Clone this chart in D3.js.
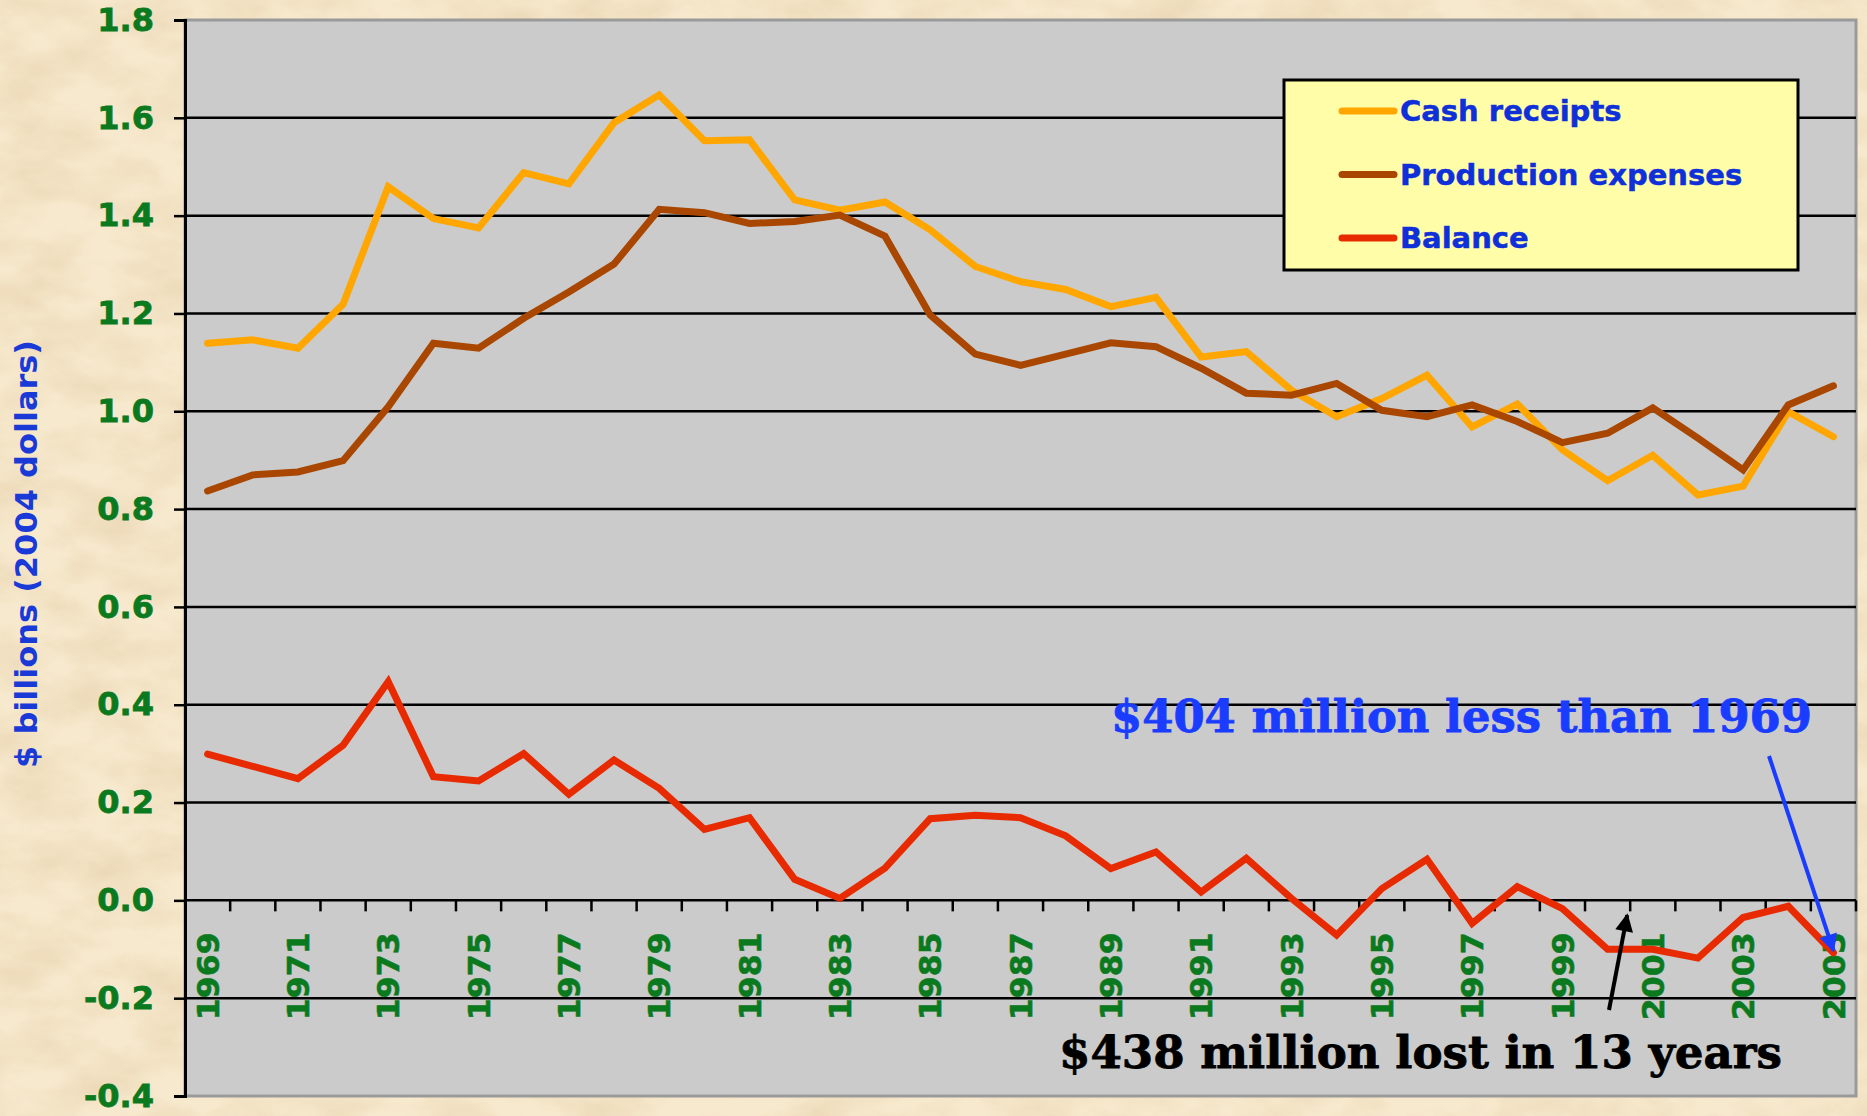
<!DOCTYPE html>
<html>
<head>
<meta charset="utf-8">
<script src="https://cdn.jsdelivr.net/npm/d3@7"></script>
<style>
  body { margin: 0; overflow: hidden; background: #f3e3c4; }
  svg { display: block; }
</style>
</head>
<body>
<div id="chart"></div>
<script>
// data, $ billions (2004 dollars)
const years = d3.range(1969, 2006);
const cashReceipts = [1.139, 1.146, 1.129, 1.219, 1.459, 1.394, 1.375, 1.488, 1.465, 1.590,
  1.647, 1.553, 1.555, 1.432, 1.411, 1.428, 1.371, 1.296, 1.265, 1.249,
  1.214, 1.233, 1.111, 1.122, 1.043, 0.989, 1.026, 1.074, 0.968, 1.015,
  0.921, 0.858, 0.910, 0.829, 0.847, 0.999, 0.948];
const productionExpenses = [0.837, 0.870, 0.876, 0.899, 1.009, 1.139, 1.129, 1.190, 1.244, 1.301,
  1.413, 1.406, 1.384, 1.388, 1.401, 1.358, 1.197, 1.117, 1.094, 1.117,
  1.140, 1.132, 1.088, 1.037, 1.033, 1.057, 1.002, 0.989, 1.013, 0.979,
  0.936, 0.955, 1.007, 0.945, 0.880, 1.013, 1.052];
const balance = [0.299, 0.274, 0.249, 0.317, 0.447, 0.253, 0.244, 0.300, 0.217, 0.287,
  0.229, 0.145, 0.169, 0.043, 0.004, 0.066, 0.167, 0.174, 0.169, 0.132,
  0.065, 0.099, 0.017, 0.086, 0.004, -0.071, 0.024, 0.084, -0.047, 0.028,
  -0.017, -0.100, -0.100, -0.118, -0.035, -0.012, -0.107];
const yTicks = [-0.4, -0.2, 0, 0.2, 0.4, 0.6, 0.8, 1.0, 1.2, 1.4, 1.6, 1.8];
const seriesNames = ["Cash receipts", "Production expenses", "Balance"];
const seriesColors = ["#ffa600", "#a94600", "#e82a00"];

const W = 1867, H = 1116;
const margin = { top: 20, right: 11, bottom: 20, left: 185 },
      width = W - margin.left - margin.right,
      height = H - margin.top - margin.bottom;

const svg = d3.select("#chart").append("svg")
    .attr("width", W)
    .attr("height", H);

// parchment background
const defs = svg.append("defs");
const f = defs.append("filter").attr("id", "paper")
    .attr("x", 0).attr("y", 0).attr("width", "100%").attr("height", "100%");
f.append("feTurbulence").attr("type", "fractalNoise")
    .attr("baseFrequency", "0.014 0.025").attr("numOctaves", 5).attr("seed", 7);
f.append("feColorMatrix").attr("type", "matrix")
    .attr("values", "0 0 0 0 0.78  0 0 0 0 0.62  0 0 0 0 0.40  1.6 0 0 0 -0.55");

svg.append("rect").attr("width", W).attr("height", H).attr("fill", "#f7e9cd");
svg.append("rect").attr("width", W).attr("height", H)
    .attr("filter", "url(#paper)").attr("opacity", 0.7);

// arrow markers
function marker(id, color) {
  defs.append("marker").attr("id", id)
      .attr("viewBox", "0 0 10 10").attr("refX", 9).attr("refY", 5)
      .attr("markerWidth", 5).attr("markerHeight", 4.5)
      .attr("markerUnits", "strokeWidth")
      .attr("orient", "auto")
    .append("path").attr("d", "M0,0 L10,5 L0,10 z").attr("fill", color);
}
marker("headBlue", "#1a3cff");
marker("headBlack", "#000");

const g = svg.append("g")
    .attr("transform", `translate(${margin.left},${margin.top})`);

const x = d3.scaleBand().domain(years).range([0, width]).padding(0);
const y = d3.scaleLinear().domain([-0.4, 1.8]).range([height, 0]);
const cx = d => x(d) + x.bandwidth() / 2;

// plot area
g.append("rect")
    .attr("x", 0).attr("y", 0)
    .attr("width", width).attr("height", height)
    .attr("fill", "#cbcbcb")
    .attr("stroke", "#9a9a9a")
    .attr("stroke-width", 3);

// grid lines
g.append("g")
    .selectAll("line")
    .data(yTicks.filter(t => t > -0.4 && t < 1.8))
    .join("line")
      .attr("x1", 0).attr("x2", width)
      .attr("y1", d => y(d)).attr("y2", d => y(d))
      .attr("stroke", "#000").attr("stroke-width", 2.5);

// y axis
const yAxis = g.append("g")
    .call(d3.axisLeft(y).tickValues(yTicks).tickSize(11).tickPadding(20)
      .tickFormat(d3.format(".1f")));
yAxis.select(".domain").attr("stroke", "#000").attr("stroke-width", 3);
yAxis.selectAll(".tick line").attr("stroke", "#000").attr("stroke-width", 2.5);
yAxis.selectAll("text")
    .attr("fill", "#0b7a1f")
    .attr("stroke", "#0b7a1f").attr("stroke-width", 0.8)
    .style("font-family", "Verdana, 'DejaVu Sans', sans-serif")
    .style("font-weight", "bold")
    .style("font-size", "32px")
    .text(d => d3.format(".1f")(d).replace("−", "-"));

// x axis on the zero line: ticks at category boundaries
const boundaries = years.slice(1).map(d => x(d)).concat([width]);
g.append("g")
    .selectAll("line")
    .data(boundaries)
    .join("line")
      .attr("x1", d => d).attr("x2", d => d)
      .attr("y1", y(0)).attr("y2", y(0) + 11)
      .attr("stroke", "#000").attr("stroke-width", 2.5);

g.append("g")
    .selectAll("text")
    .data(years.filter(d => (d - 1969) % 2 === 0))
    .join("text")
      .attr("transform", d => `translate(${cx(d)},${y(0) + 32}) rotate(-90)`)
      .attr("dy", "0.36em")
      .attr("text-anchor", "end")
      .attr("fill", "#0b7a1f")
      .attr("stroke", "#0b7a1f").attr("stroke-width", 0.6)
      .attr("textLength", 88).attr("lengthAdjust", "spacingAndGlyphs")
      .style("font-family", "Verdana, 'DejaVu Sans', sans-serif")
      .style("font-weight", "bold")
      .style("font-size", "31px")
      .text(d => d);

// y axis title
svg.append("text")
    .attr("transform", `translate(26,${margin.top + height / 2 - 4}) rotate(-90)`)
    .attr("dy", "0.36em")
    .attr("text-anchor", "middle")
    .attr("fill", "#1a3ad8")
    .attr("textLength", 428).attr("lengthAdjust", "spacingAndGlyphs")
    .style("font-family", "Verdana, 'DejaVu Sans', sans-serif")
    .style("font-weight", "bold")
    .style("font-size", "30px")
    .text("$ billions (2004 dollars)");

// lines
const seriesData = [cashReceipts, productionExpenses, balance];
const line = d3.line()
    .x((d, i) => cx(years[i]))
    .y(d => y(d));

g.append("g")
    .selectAll("path")
    .data(seriesData)
    .join("path")
      .attr("d", line)
      .attr("fill", "none")
      .attr("stroke", (d, i) => seriesColors[i])
      .attr("stroke-width", 7)
      .attr("stroke-linejoin", "miter")
      .attr("stroke-linecap", "round");

// legend
const legend = svg.append("g").attr("transform", "translate(1284,80)");
legend.append("rect")
    .attr("width", 514).attr("height", 190)
    .attr("fill", "#fffda8")
    .attr("stroke", "#000").attr("stroke-width", 3);
const items = legend.selectAll("g.item")
    .data(seriesNames)
    .join("g").attr("class", "item")
    .attr("transform", (d, i) => `translate(0,${31 + i * 63.5})`);
items.append("line")
    .attr("x1", 58).attr("x2", 110)
    .attr("stroke", (d, i) => seriesColors[i])
    .attr("stroke-width", 7)
    .attr("stroke-linecap", "round");
items.append("text")
    .attr("x", 116).attr("dy", "0.36em")
    .attr("fill", "#0f30d8")
    .attr("stroke", "#0f30d8").attr("stroke-width", 0.5)
    .style("font-family", "Verdana, 'DejaVu Sans', sans-serif")
    .style("font-weight", "bold")
    .style("font-size", "29px")
    .text(d => d);

// annotations
const last = years.length - 1;
svg.append("text")
    .attr("x", 1111).attr("y", 732)
    .attr("fill", "#1a3cff")
    .attr("stroke", "#1a3cff").attr("stroke-width", 0.8)
    .attr("textLength", 701).attr("lengthAdjust", "spacingAndGlyphs")
    .style("font-family", "'DejaVu Serif', 'Liberation Serif', serif")
    .style("font-weight", "bold")
    .style("font-size", "45px")
    .text("$404 million less than 1969");

svg.append("line")
    .attr("x1", 1769).attr("y1", 756)
    .attr("x2", margin.left + cx(years[last]))
    .attr("y2", margin.top + y(balance[last]) - 2)
    .attr("stroke", "#1a3cff").attr("stroke-width", 4)
    .attr("marker-end", "url(#headBlue)");

svg.append("text")
    .attr("x", 1059).attr("y", 1068)
    .attr("fill", "#000")
    .attr("stroke", "#000").attr("stroke-width", 0.8)
    .attr("textLength", 723).attr("lengthAdjust", "spacingAndGlyphs")
    .style("font-family", "'DejaVu Serif', 'Liberation Serif', serif")
    .style("font-weight", "bold")
    .style("font-size", "44px")
    .text("$438 million lost in 13 years");

svg.append("line")
    .attr("x1", 1609).attr("y1", 1010)
    .attr("x2", margin.left + x(2001) - 3)
    .attr("y2", margin.top + y(-0.03))
    .attr("stroke", "#000").attr("stroke-width", 4)
    .attr("marker-end", "url(#headBlack)");
</script>
</body>
</html>
